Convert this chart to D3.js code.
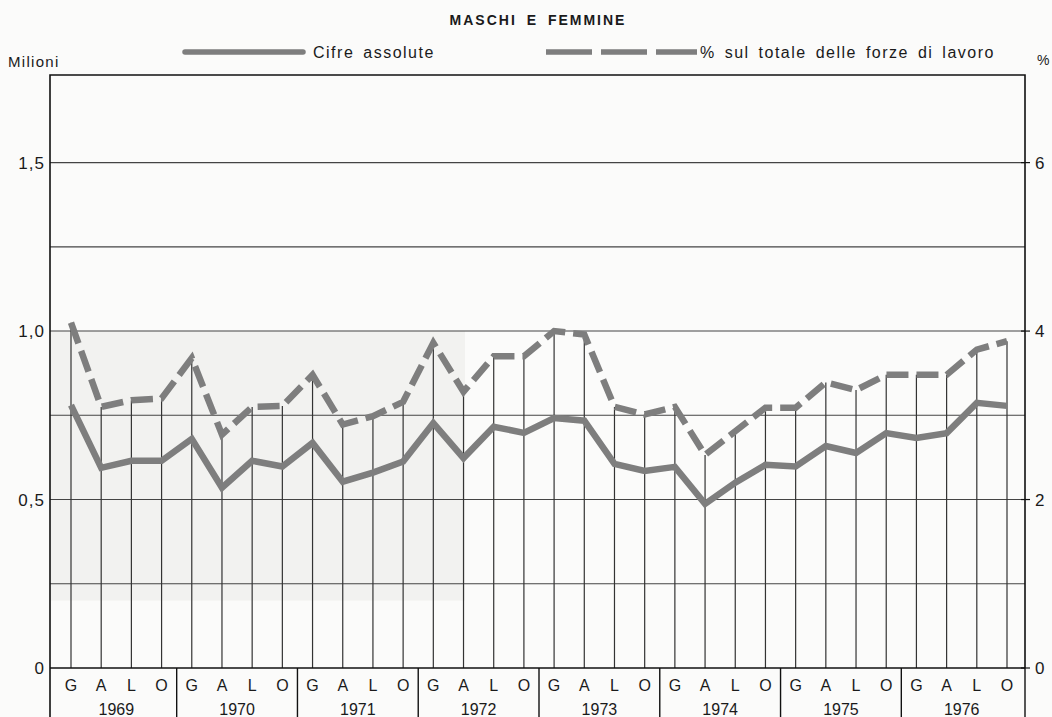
<!DOCTYPE html>
<html>
<head>
<meta charset="utf-8">
<script src="https://cdn.jsdelivr.net/npm/d3@7"></script>
<style>
  body { margin: 0; background: #fbfbfa; }
  svg { display: block; font-family: "Liberation Sans", Arial, sans-serif; fill: #1a1a1a; }
</style>
</head>
<body>
<script>
// dati trimestrali 1969-1976 (G A L O)
var anni = [1969, 1970, 1971, 1972, 1973, 1974, 1975, 1976];
var trimestri = ["G", "A", "L", "O"];
// cifre assolute, milioni
var assolute = [
  0.780, 0.594, 0.615, 0.615,
  0.680, 0.535, 0.615, 0.598,
  0.668, 0.553, 0.580, 0.613,
  0.727, 0.623, 0.716, 0.698,
  0.742, 0.734, 0.606, 0.585,
  0.597, 0.487, 0.550, 0.603,
  0.598, 0.659, 0.638, 0.697,
  0.683, 0.697, 0.787, 0.778
];
// % sul totale delle forze di lavoro
var percentuali = [
  4.10, 3.10, 3.18, 3.20,
  3.68, 2.77, 3.10, 3.11,
  3.48, 2.89, 2.99, 3.16,
  3.86, 3.28, 3.70, 3.70,
  4.00, 3.96, 3.10, 3.01,
  3.10, 2.53, 2.81, 3.09,
  3.09, 3.39, 3.30, 3.48,
  3.48, 3.48, 3.78, 3.88
];
var ticksMilioni = [0, 0.5, 1.0, 1.5];
var ticksPerc = [0, 2, 4, 6];
var griglia = [0.25, 0.5, 0.75, 1.0, 1.25, 1.5];

var width = 1052, height = 717;
var xSx = 50, xDx = 1025, yAlto = 75, yBasso = 668;
var grigio = "#7e7e7e";

var svg = d3.select("body")
  .append("svg")
  .attr("width", width)
  .attr("height", height);

var x = d3.scaleLinear().domain([0, assolute.length - 1]).range([71, 1007]);
var y = d3.scaleLinear().domain([0, 1.76]).range([yBasso, yAlto]);
var yp = d3.scaleLinear().domain([0, 7.04]).range([yBasso, yAlto]);

// leggera ombreggiatura della carta
svg.append("rect")
  .attr("x", xSx).attr("y", y(1.0))
  .attr("width", 415).attr("height", y(0.2) - y(1.0))
  .style("fill", "#f2f2f0");

// griglia orizzontale
svg.selectAll("line.grid")
  .data(griglia)
  .enter()
  .append("line")
  .attr("class", "grid")
  .attr("x1", xSx).attr("x2", xDx)
  .attr("y1", function(d) { return y(d) })
  .attr("y2", function(d) { return y(d) })
  .style("stroke", "#444")
  .style("stroke-width", 1.1);

// linee verticali dai punti percentuali
svg.selectAll("line.drop")
  .data(percentuali)
  .enter()
  .append("line")
  .attr("class", "drop")
  .attr("x1", function(d, i) { return x(i) })
  .attr("x2", function(d, i) { return x(i) })
  .attr("y1", function(d) { return yp(d) })
  .attr("y2", yBasso)
  .style("stroke", "#333")
  .style("stroke-width", 1.2);

// cornice
svg.append("path")
  .attr("d", "M" + xSx + "," + height + "V" + yAlto + "H" + xDx + "V" + yBasso)
  .style("fill", "none")
  .style("stroke", "#111")
  .style("stroke-width", 1.6);
svg.append("line")
  .attr("x1", xSx).attr("x2", xDx)
  .attr("y1", yBasso).attr("y2", yBasso)
  .style("stroke", "#111")
  .style("stroke-width", 1.6);

// separatori anni
var separatori = anni.slice(1).map(function(a, i) { return x((i + 1) * 4 - 0.5) });
separatori.push(xDx);
svg.selectAll("line.sep")
  .data(separatori)
  .enter()
  .append("line")
  .attr("class", "sep")
  .attr("x1", function(d) { return d })
  .attr("x2", function(d) { return d })
  .attr("y1", yBasso).attr("y2", height)
  .style("stroke", "#111")
  .style("stroke-width", 1.4);

// serie
var linea = d3.line()
  .x(function(d, i) { return x(i) })
  .y(function(d) { return y(d) });
var lineaPerc = d3.line()
  .x(function(d, i) { return x(i) })
  .y(function(d) { return yp(d) });

svg.append("path")
  .attr("d", lineaPerc(percentuali))
  .style("fill", "none")
  .style("stroke", grigio)
  .style("stroke-width", 6.5)
  .style("stroke-dasharray", "22,8")
  .style("stroke-linejoin", "miter");

svg.append("path")
  .attr("d", linea(assolute))
  .style("fill", "none")
  .style("stroke", grigio)
  .style("stroke-width", 6.5)
  .style("stroke-linejoin", "miter");

// etichette asse sinistro
svg.selectAll("text.tl")
  .data(ticksMilioni)
  .enter()
  .append("text")
  .attr("class", "tl")
  .attr("x", 45)
  .attr("y", function(d) { return y(d) + 6 })
  .attr("text-anchor", "end")
  .style("font-size", "17px")
  .style("letter-spacing", "1px")
  .text(function(d) { return d === 0 ? "0" : d3.format(".1f")(d).replace(".", ",") });

// tacche e etichette asse destro
svg.selectAll("line.tr")
  .data(ticksPerc)
  .enter()
  .append("line")
  .attr("class", "tr")
  .attr("x1", xDx - 4).attr("x2", xDx + 5)
  .attr("y1", function(d) { return yp(d) })
  .attr("y2", function(d) { return yp(d) })
  .style("stroke", "#111")
  .style("stroke-width", 1.2);

svg.selectAll("text.tr")
  .data(ticksPerc)
  .enter()
  .append("text")
  .attr("class", "tr")
  .attr("x", xDx + 10)
  .attr("y", function(d) { return yp(d) + 6 })
  .style("font-size", "17px")
  .text(function(d) { return d });

// trimestri e anni
var etichette = [];
anni.forEach(function(a) {
  trimestri.forEach(function(t) { etichette.push(t) });
});
svg.selectAll("text.q")
  .data(etichette)
  .enter()
  .append("text")
  .attr("class", "q")
  .attr("x", function(d, i) { return x(i) })
  .attr("y", 691)
  .attr("text-anchor", "middle")
  .style("font-size", "16px")
  .text(function(d) { return d });

svg.selectAll("text.anno")
  .data(anni)
  .enter()
  .append("text")
  .attr("class", "anno")
  .attr("x", function(d, i) { return x(i * 4 + 1.5) })
  .attr("y", 715)
  .attr("text-anchor", "middle")
  .style("font-size", "16px")
  .text(function(d) { return d });

// titolo e legenda
svg.append("text")
  .attr("x", 538).attr("y", 25)
  .attr("text-anchor", "middle")
  .style("font-size", "14px")
  .style("font-weight", "bold")
  .style("letter-spacing", "2px")
  .style("word-spacing", "4px")
  .text("MASCHI E FEMMINE");

svg.append("text")
  .attr("x", 8).attr("y", 67)
  .style("font-size", "15px")
  .style("letter-spacing", "1.3px")
  .text("Milioni");

svg.append("text")
  .attr("x", 1037).attr("y", 65)
  .style("font-size", "14px")
  .text("%");

svg.append("line")
  .attr("x1", 185).attr("x2", 303)
  .attr("y1", 52).attr("y2", 52)
  .style("stroke", grigio)
  .style("stroke-width", 5.5)
  .style("stroke-linecap", "round");

svg.append("text")
  .attr("x", 313).attr("y", 58)
  .style("font-size", "16px")
  .style("letter-spacing", "1.5px")
  .style("word-spacing", "3px")
  .text("Cifre assolute");

svg.append("line")
  .attr("x1", 546).attr("x2", 697)
  .attr("y1", 52).attr("y2", 52)
  .style("stroke", grigio)
  .style("stroke-width", 5.5)
  .style("stroke-dasharray", "46,9");

svg.append("text")
  .attr("x", 700).attr("y", 58)
  .style("font-size", "16px")
  .style("letter-spacing", "1.5px")
  .style("word-spacing", "3px")
  .text("% sul totale delle forze di lavoro");
</script>
</body>
</html>
